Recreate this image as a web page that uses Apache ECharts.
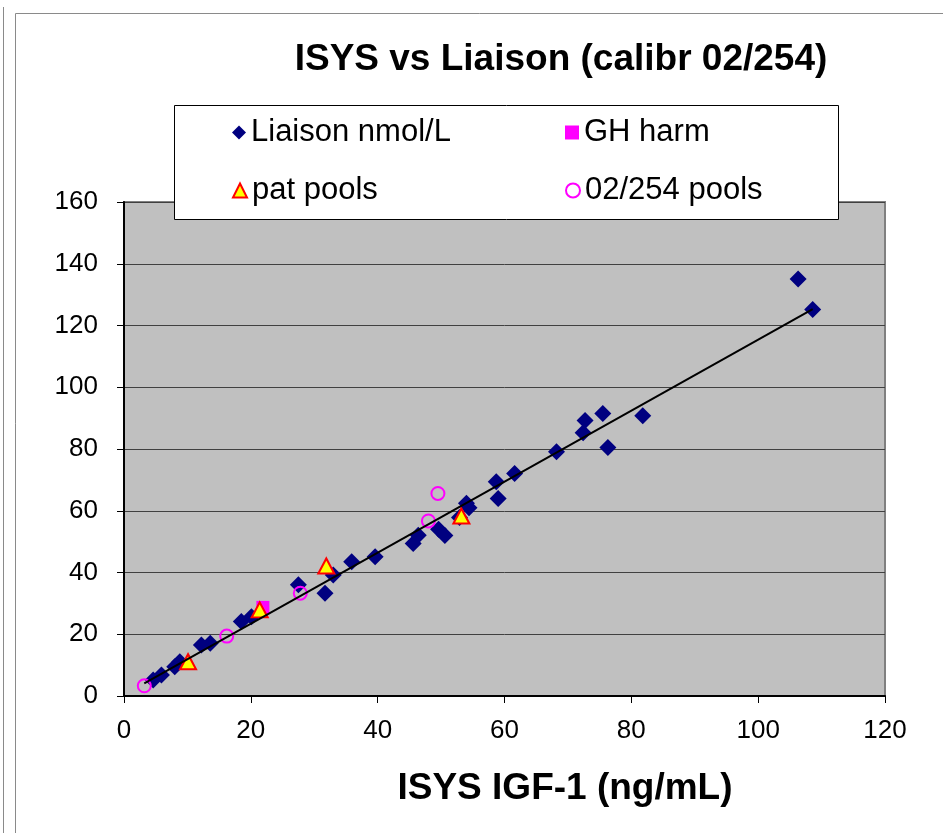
<!DOCTYPE html>
<html>
<head>
<meta charset="utf-8">
<script src="https://cdn.jsdelivr.net/npm/echarts@6/dist/echarts.min.js"></script>
<style>
  html, body { margin: 0; padding: 0; background: #fff; }
  #chart { width: 943px; height: 833px; }
</style>
</head>
<body>
<div id="chart"></div>
<script>
// values
var liaisonX = [4.6, 5.9, 8.0, 8.8, 12.2, 13.6, 18.5, 20.1, 27.5, 31.7, 33.0, 35.9, 39.6, 45.6, 46.4, 49.6,
  50.6, 52.9, 54.0, 54.4, 58.7, 59.0, 61.6, 68.2, 72.4, 72.7, 75.5, 76.3, 81.8, 106.3, 108.6]
var liaisonY = [5.2, 6.8, 9.5, 11.1, 16.5, 17.1, 24.1, 25.7, 36.0, 33.3, 39.2, 43.5, 45.1, 49.4, 52.1, 54.0,
  52.0, 57.8, 62.4, 61.0, 69.4, 64.0, 72.1, 79.1, 85.3, 89.2, 91.5, 80.5, 90.8, 135.1, 125.2]
var ghX = [21.9]
var ghY = [28.7]
var patX = [10.1, 21.4, 31.9, 53.2]
var patY = [11.1, 27.9, 42.1, 58.3]
var poolX = [3.2, 16.2, 27.8, 48.0, 49.5]
var poolY = [3.3, 19.4, 33.3, 56.7, 65.6]
// trendline ends
var trendX = [3.2, 108.6]
var trendY = [4.1, 125.3]

var seriesNames = ['Liaison nmol/L', 'GH harm', 'pat pools', '02/254 pools']

function zip(xs, ys) {
  return xs.map(function (x, i) { return [x, ys[i]] })
}

const font = 'Liberation Sans, Arial, sans-serif'
var myChart = echarts.init(document.getElementById('chart'))

// one legend per cell so the two columns line up
var legendPos = [[232, 117], [565, 117], [232, 175], [565, 175]]
var legends = seriesNames.map(function (name, i) {
  return {
    data: [name],
    left: legendPos[i][0],
    top: legendPos[i][1],
    padding: 0,
    itemWidth: 14,
    itemHeight: 14,
    itemGap: 8,
    z: 20,
    selectedMode: false,
    textStyle: { fontFamily: font, fontSize: 31, color: '#000' }
  }
})

var axisLine = { show: true, onZero: false, lineStyle: { color: '#000', width: 2 } }

var option = {
  animation: false,
  backgroundColor: '#fff',
  title: [
    {
      text: 'ISYS vs Liaison (calibr 02/254)',
      left: 561, top: 41, textAlign: 'center', padding: 0,
      textStyle: { fontFamily: font, fontSize: 37, fontWeight: 'bold', color: '#000' }
    },
    {
      text: 'ISYS IGF-1 (ng/mL)',
      left: 565, top: 770, textAlign: 'center', padding: 0,
      textStyle: { fontFamily: font, fontSize: 37, fontWeight: 'bold', color: '#000' }
    }
  ],
  legend: legends,
  grid: {
    left: 124, right: 58, top: 202, bottom: 137,
    show: true,
    backgroundColor: '#c0c0c0',
    borderColor: '#808080',
    borderWidth: 2
  },
  xAxis: {
    type: 'value', min: 0, max: 120, interval: 20,
    axisLine: axisLine,
    axisTick: { show: true, length: 7, lineStyle: { color: '#000' } },
    axisLabel: { margin: 22, fontFamily: font, fontSize: 26, color: '#000' },
    splitLine: { show: false }
  },
  yAxis: {
    type: 'value', min: 0, max: 160, interval: 20,
    axisLine: axisLine,
    axisTick: { show: true, length: 7, lineStyle: { color: '#000' } },
    axisLabel: { margin: 26, fontFamily: font, fontSize: 26, color: '#000' },
    splitLine: { show: true, lineStyle: { color: '#404040', width: 1 } }
  },
  graphic: [
    { type: 'rect', z: 0, silent: true,
      shape: { x: 15.5, y: 13.5, width: 940, height: 830 },
      style: { fill: 'none', stroke: '#8a8a8a', lineWidth: 1 } },
    { type: 'line', z: 0, silent: true,
      shape: { x1: 3.5, y1: 7, x2: 3.5, y2: 833 },
      style: { stroke: '#8a8a8a', lineWidth: 1 } },
    { type: 'rect', z: 15, silent: true,
      shape: { x: 174.5, y: 105.5, width: 664, height: 114 },
      style: { fill: '#fff', stroke: '#000', lineWidth: 1 } }
  ],
  series: [
    {
      name: seriesNames[0], type: 'scatter', symbol: 'diamond', symbolSize: 17,
      itemStyle: { color: '#000080', opacity: 1 },
      data: zip(liaisonX, liaisonY)
    },
    {
      name: seriesNames[1], type: 'scatter', symbol: 'rect', symbolSize: 13,
      itemStyle: { color: '#ff00ff', opacity: 1 },
      data: zip(ghX, ghY)
    },
    {
      name: seriesNames[2], type: 'scatter', symbol: 'triangle', symbolSize: [16, 15],
      itemStyle: { color: '#ffff00', borderColor: '#ff0000', borderWidth: 2, opacity: 1 },
      data: zip(patX, patY)
    },
    {
      name: seriesNames[3], type: 'scatter', symbol: 'circle', symbolSize: 13,
      itemStyle: { color: 'rgba(0,0,0,0)', borderColor: '#ff00ff', borderWidth: 2, opacity: 1 },
      data: zip(poolX, poolY)
    },
    {
      name: 'trend', type: 'line', symbol: 'none', z: 3,
      lineStyle: { color: '#000', width: 2 },
      data: zip(trendX, trendY)
    }
  ]
}

myChart.setOption(option)
</script>
</body>
</html>
